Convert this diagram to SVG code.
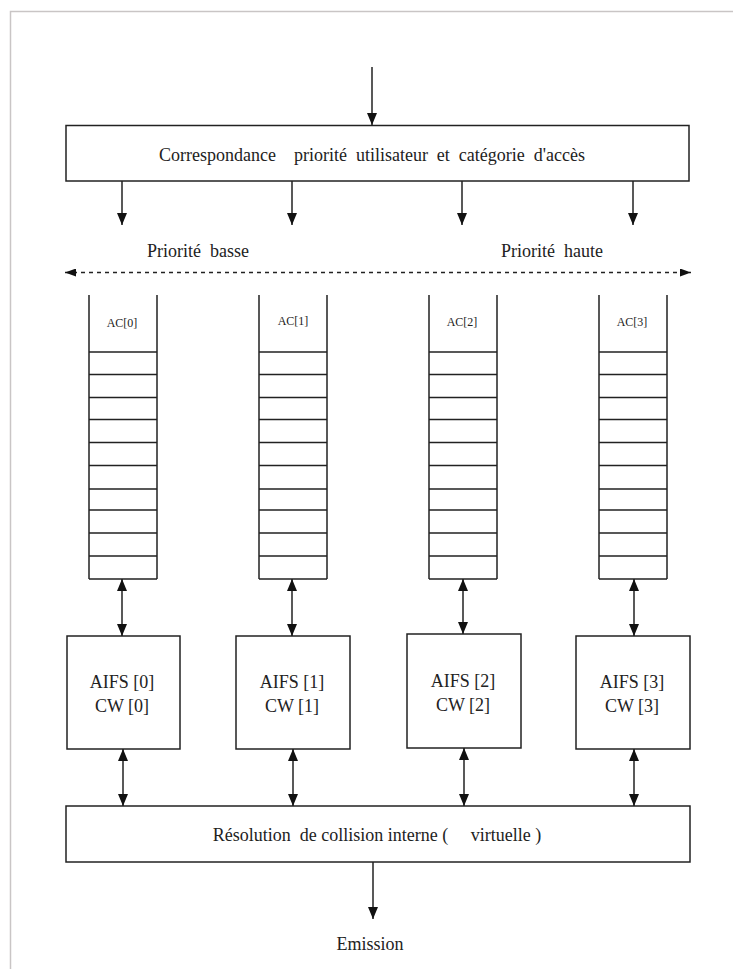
<svg xmlns="http://www.w3.org/2000/svg" width="733" height="969" viewBox="0 0 733 969">
<style>
.bx{fill:#fff;stroke:#222;stroke-width:1.5}
.ln{stroke:#222;stroke-width:1.5;fill:none}
.t{font-family:"Liberation Serif","Times New Roman",serif;fill:#222;white-space:pre}
.t18{font-size:18px}
.t12{font-size:12px}
</style>
<defs>
<marker id="ah" markerUnits="userSpaceOnUse" viewBox="0 0 12 10" refX="12" refY="5" markerWidth="12" markerHeight="10" orient="auto-start-reverse">
<path d="M0,0 L12,5 L0,10 z" fill="#111"/>
</marker>
<marker id="ahs" markerUnits="userSpaceOnUse" viewBox="0 0 11 8" refX="11" refY="4" markerWidth="11" markerHeight="8" orient="auto-start-reverse">
<path d="M0,0 L11,4 L0,8 z" fill="#111"/>
</marker>
<g id="queue">
<path class="ln" d="M0,0 V284 M68,0 V284 M0,57 H68 M0,79.5 H68 M0,102.5 H68 M0,124.5 H68 M0,147.5 H68 M0,170.5 H68 M0,194 H68 M0,215 H68 M0,238 H68 M0,261 H68 M0,284 H68"/>
</g>
</defs>
<rect width="733" height="969" fill="#fff"/>
<path d="M10.5,969 V11.5 H733" fill="none" stroke="#c9c5c5" stroke-width="1.5"/>

<g id="mapping">
<rect class="bx" x="66" y="125.5" width="623" height="55.5"/>
<text class="t t18" x="372" y="161" text-anchor="middle" xml:space="preserve">Correspondance    priorité  utilisateur  et  catégorie  d'accès</text>
</g>

<g id="priority">
<text class="t t18" x="198" y="257" text-anchor="middle" xml:space="preserve">Priorité  basse</text>
<text class="t t18" x="552" y="257" text-anchor="middle" xml:space="preserve">Priorité  haute</text>
</g>

<g id="ac0"><use href="#queue" x="89" y="295"/><text class="t t12" x="122" y="327" text-anchor="middle">AC[0]</text></g>
<g id="ac1"><use href="#queue" x="259" y="295"/><text class="t t12" x="293" y="325" text-anchor="middle">AC[1]</text></g>
<g id="ac2"><use href="#queue" x="429" y="295"/><text class="t t12" x="462" y="326" text-anchor="middle">AC[2]</text></g>
<g id="ac3"><use href="#queue" x="599" y="295"/><text class="t t12" x="632" y="326" text-anchor="middle">AC[3]</text></g>

<g id="aifs0"><rect class="bx" x="67" y="636" width="113" height="113"/><text class="t t18" x="122" y="688" text-anchor="middle">AIFS [0]</text><text class="t t18" x="122" y="712" text-anchor="middle">CW [0]</text></g>
<g id="aifs1"><rect class="bx" x="236" y="636" width="114" height="113"/><text class="t t18" x="292" y="688" text-anchor="middle">AIFS [1]</text><text class="t t18" x="292" y="712" text-anchor="middle">CW [1]</text></g>
<g id="aifs2"><rect class="bx" x="407" y="634" width="114" height="114"/><text class="t t18" x="463" y="687" text-anchor="middle">AIFS [2]</text><text class="t t18" x="463" y="711" text-anchor="middle">CW [2]</text></g>
<g id="aifs3"><rect class="bx" x="576" y="636" width="114" height="113"/><text class="t t18" x="632" y="688" text-anchor="middle">AIFS [3]</text><text class="t t18" x="632" y="712" text-anchor="middle">CW [3]</text></g>

<g id="resolution">
<rect class="bx" x="66" y="806" width="624" height="56"/>
<text class="t t18" x="377" y="841" text-anchor="middle" xml:space="preserve">Résolution  de collision interne (     virtuelle )</text>
</g>

<g id="emission">
<text class="t t18" x="370" y="950" text-anchor="middle">Emission</text>
</g>

<g id="connectors">
<line class="ln" x1="372" y1="67" x2="372" y2="125" marker-end="url(#ah)"/>
<line class="ln" x1="122" y1="181" x2="122" y2="225" marker-end="url(#ah)"/>
<line class="ln" x1="292" y1="181" x2="292" y2="225" marker-end="url(#ah)"/>
<line class="ln" x1="462" y1="181" x2="462" y2="225" marker-end="url(#ah)"/>
<line class="ln" x1="633" y1="181" x2="633" y2="225" marker-end="url(#ah)"/>
<line class="ln" x1="65" y1="272.5" x2="691" y2="272.5" stroke-dasharray="4 4" marker-start="url(#ahs)" marker-end="url(#ahs)"/>
<line class="ln" x1="122" y1="579" x2="122" y2="636" marker-start="url(#ah)" marker-end="url(#ah)"/>
<line class="ln" x1="292" y1="579" x2="292" y2="636" marker-start="url(#ah)" marker-end="url(#ah)"/>
<line class="ln" x1="463" y1="579" x2="463" y2="634" marker-start="url(#ah)" marker-end="url(#ah)"/>
<line class="ln" x1="634" y1="579" x2="634" y2="636" marker-start="url(#ah)" marker-end="url(#ah)"/>
<line class="ln" x1="123" y1="749" x2="123" y2="806" marker-start="url(#ah)" marker-end="url(#ah)"/>
<line class="ln" x1="293" y1="749" x2="293" y2="806" marker-start="url(#ah)" marker-end="url(#ah)"/>
<line class="ln" x1="464" y1="748" x2="464" y2="806" marker-start="url(#ah)" marker-end="url(#ah)"/>
<line class="ln" x1="634" y1="749" x2="634" y2="806" marker-start="url(#ah)" marker-end="url(#ah)"/>
<line class="ln" x1="373" y1="862" x2="373" y2="919" marker-end="url(#ah)"/>
</g>
</svg>
